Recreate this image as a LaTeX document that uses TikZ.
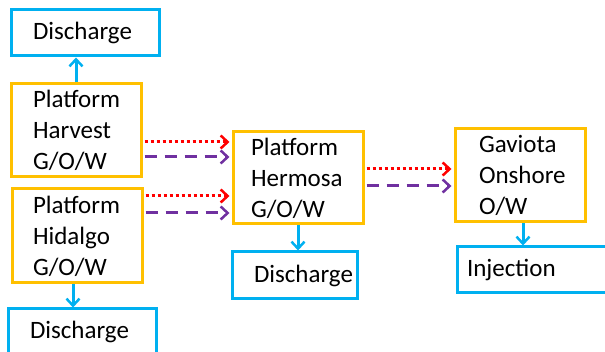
\documentclass[tikz,border=0pt]{standalone}
\usepackage{fontspec}
\setmainfont{Carlito}
\usetikzlibrary{arrows.meta}

\definecolor{boxorange}{HTML}{FFC000}
\definecolor{boxblue}{HTML}{00B0F0}
\definecolor{flowred}{HTML}{FF0000}
\definecolor{flowpurple}{HTML}{7030A0}

\tikzset{
  basebox/.style={line width=3pt, inner ysep=0pt,
    align=left, font=\fontsize{25}{31}\selectfont, text=black},
  platbox/.style={basebox, draw=boxorange},
  sinkbox/.style={basebox, draw=boxblue},
  tip/.style={-{Straight Barb[length=7pt,width=13pt,line width=2.5pt]}},
  bluearrow/.style={tip, draw=boxblue, line width=3pt},
  gasline/.style={tip, draw=flowred, line width=3pt, dash pattern=on 3pt off 3pt},
  oilline/.style={tip, draw=flowpurple, line width=3pt, dash pattern=on 12pt off 8pt},
}

\begin{document}
\begin{tikzpicture}[x=1pt, y=-1pt]
\useasboundingbox (0,0) rectangle (605,352);

% platforms and onshore plant
\node[platbox, minimum height=93pt, inner xsep=22pt, text width=86pt] (harv) at (76,130.5)
  {Platform\\Harvest\\G/O/W};
\node[platbox, minimum height=94pt, inner xsep=21pt, text width=88pt] (hida) at (77,236)
  {Platform\\Hidalgo\\G/O/W};
\node[platbox, minimum height=92pt, inner xsep=18pt, text width=94pt] (herm) at (298,178)
  {Platform\\Hermosa\\G/O/W};
\node[platbox, minimum height=93pt, inner xsep=24pt, text width=82pt] (gav) at (520,175.5)
  {Gaviota\\Onshore\\O/W};

% discharge and injection sinks
\node[sinkbox, minimum height=46pt, inner xsep=22pt, text width=104pt] (dtop) at (85,33)
  {Discharge};
\node[sinkbox, minimum height=46pt, inner xsep=22pt, text width=104pt] (dbot) at (82,332)
  {Discharge};
\node[sinkbox, minimum height=47pt, inner xsep=22pt, text width=81pt] (dmid) at (294.5,275.5)
  {Discharge};
\node[sinkbox, minimum height=46pt, inner xsep=10pt, text width=140pt] (inj) at (537,270)
  {Injection};

% water streams
\draw[bluearrow] (harv.north) -- (harv.north |- dtop.south);
\draw[bluearrow] ([xshift=-4pt]hida.south) -- ([xshift=-4pt]hida.south |- dbot.north);
\draw[bluearrow] (herm.south) -- (herm.south |- dmid.north);
\draw[bluearrow] ([xshift=3pt]gav.south) -- ([xshift=3pt]gav.south |- inj.north);

% gas (dotted) and oil (dashed) streams
\draw[gasline, shorten <=2pt, shorten >=2pt] ([yshift=-11.5pt]harv.east) -- ([yshift=-11.5pt]harv.east -| herm.west);
\draw[oilline, shorten <=2pt, shorten >=2pt] ([yshift=-26.5pt]harv.east) -- ([yshift=-26.5pt]harv.east -| herm.west);
\draw[gasline, shorten <=2pt, shorten >=2pt] ([yshift=40pt]hida.east) -- ([yshift=40pt]hida.east -| herm.west);
\draw[oilline, shorten <=2pt, shorten >=2pt] ([yshift=23pt]hida.east) -- ([yshift=23pt]hida.east -| herm.west);
\draw[gasline, shorten <=2pt, shorten >=2pt] ([yshift=9pt]herm.east) -- ([yshift=9pt]herm.east -| gav.west);
\draw[oilline, shorten <=2pt, shorten >=2pt] ([yshift=-8pt]herm.east) -- ([yshift=-8pt]herm.east -| gav.west);
\end{tikzpicture}
\end{document}
